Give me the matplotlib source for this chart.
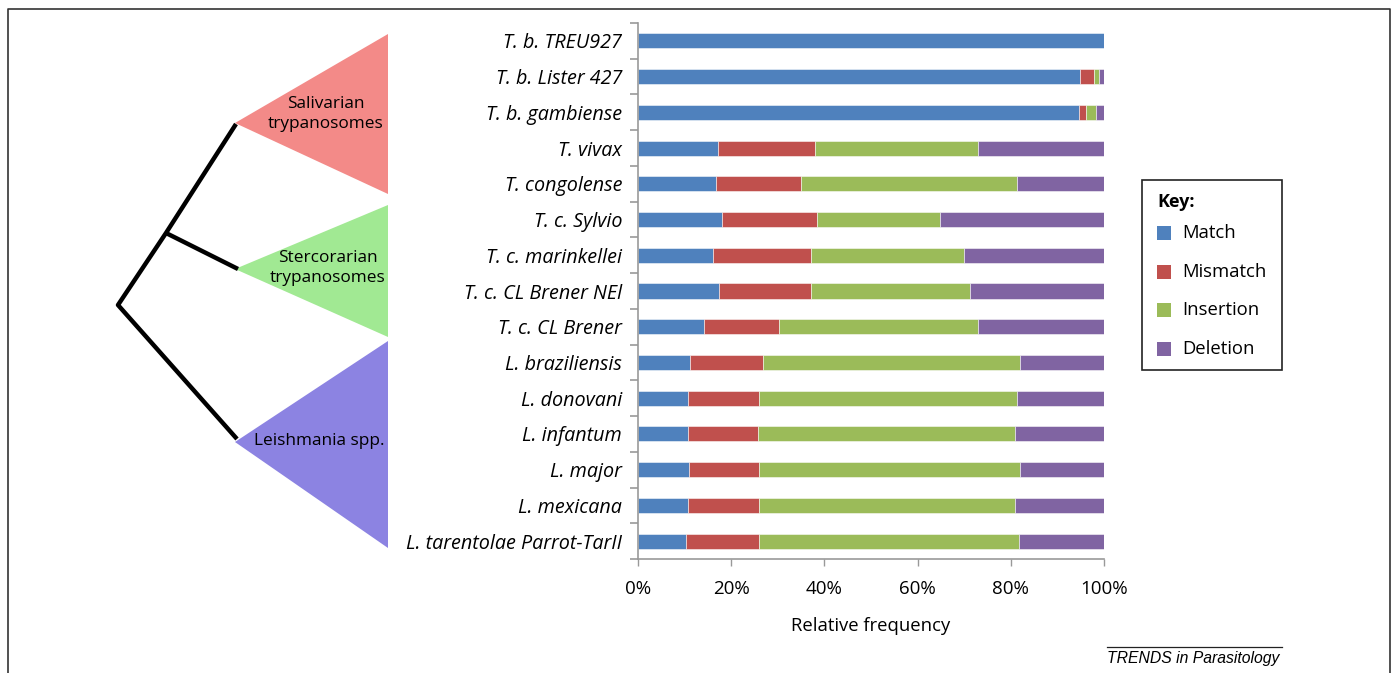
import matplotlib
matplotlib.use("Agg")
import matplotlib.pyplot as plt
from matplotlib.patches import Polygon, Rectangle
from matplotlib.lines import Line2D
import numpy as np

plt.rcParams['font.family'] = ['Open Sans', 'DejaVu Sans']

species = [
    "T. b. TREU927", "T. b. Lister 427", "T. b. gambiense", "T. vivax",
    "T. congolense", "T. c. Sylvio", "T. c. marinkellei", "T. c. CL Brener NEl",
    "T. c. CL Brener", "L. braziliensis", "L. donovani", "L. infantum",
    "L. major", "L. mexicana", "L. tarentolae Parrot-TarII",
]
# percentages per category (stacked left to right)
match = [100.0, 94.8, 94.6, 17.1, 16.8, 18.1, 16.2, 17.4, 14.2, 11.2, 10.7, 10.7, 10.9, 10.8, 10.4]
mismatch = [0.0, 3.1, 1.5, 20.9, 18.2, 20.3, 21.0, 19.7, 16.1, 15.6, 15.2, 15.1, 15.1, 15.2, 15.6]
insertion = [0.0, 1.0, 2.1, 34.9, 46.3, 26.4, 32.7, 34.1, 42.6, 55.1, 55.4, 55.1, 55.9, 54.8, 55.7]
deletion = [0.0, 1.1, 1.8, 27.1, 18.7, 35.2, 30.1, 28.8, 27.1, 18.1, 18.7, 19.1, 18.1, 19.2, 18.3]

series_names = ["Match", "Mismatch", "Insertion", "Deletion"]
series_colors = ["#4F81BD", "#C0504D", "#9BBB59", "#8064A2"]
xticks = [0, 20, 40, 60, 80, 100]
xtick_labels = ["0%", "20%", "40%", "60%", "80%", "100%"]

clades = ["Salivarian\ntrypanosomes", "Stercorarian\ntrypanosomes", "Leishmania spp."]
clade_colors = ["#F38A88", "#A1E993", "#8C83E2"]

W, H = 1393, 673
fig = plt.figure(figsize=(W / 100, H / 100), dpi=100)

# --- stacked bar chart ---
ax = fig.add_axes([638 / W, 1 - 559 / H, (1104 - 638) / W, (559 - 23) / H])
y = np.arange(len(species))
left = np.zeros(len(species))
for vals, col in zip([match, mismatch, insertion, deletion], series_colors):
    vals = np.array(vals)
    ax.barh(y, vals, left=left, height=0.42, color=col,
            edgecolor=(1, 1, 1, 0.6), linewidth=0.6)
    left += vals

ax.set_xlim(0, 100)
ax.set_ylim(len(species) - 0.5, -0.5)
ax.set_yticks(y)
ax.set_yticklabels(species, fontstyle='italic', fontsize=14.2)
ax.set_yticks(np.arange(len(species) + 1) - 0.5, minor=True)
ax.tick_params(axis='y', which='major', length=0, pad=11.5)
ax.tick_params(axis='y', which='minor', length=6, color='#999999', width=1.2)
ax.set_xticks(xticks)
ax.set_xticklabels(xtick_labels, fontsize=13.5)
ax.tick_params(axis='x', length=5, color='#999999', width=1, pad=10)
ax.set_xlabel("Relative frequency", fontsize=13.3, labelpad=14)
for s in ['top', 'right']:
    ax.spines[s].set_visible(False)
for s in ['left', 'bottom']:
    ax.spines[s].set_color('#999999')
    ax.spines[s].set_linewidth(1.2)

# --- overlay in pixel coordinates: frame, tree, clades, key ---
ov = fig.add_axes([0, 0, 1, 1], zorder=-1)
ov.set_xlim(0, W)
ov.set_ylim(H, 0)
ov.axis('off')

# outer frame
ov.add_line(Line2D([8, 8, 1390, 1390], [H, 9, 9, H], color='#333333', lw=1.2))

# clade triangles (apex, top-right, bottom-right)
tris = [
    [(235, 123), (388, 34), (388, 194)],
    [(235, 269), (388, 205), (388, 337)],
    [(235, 442), (388, 341), (388, 548)],
]
for pts, col in zip(tris, clade_colors):
    ov.add_patch(Polygon(pts, closed=True, color=col, lw=0))
label_pos = [(326, 114), (328, 268), (319, 441)]
for (tx, ty), name in zip(label_pos, clades):
    ov.text(tx, ty, name, ha='center', va='center', fontsize=12.4,
            linespacing=1.4, family=['Open Sans', 'DejaVu Sans'])

# tree branches
tree_kw = dict(color='black', lw=3.2, solid_capstyle='butt')
ov.add_line(Line2D([236, 166, 118, 237], [124, 233, 305, 439], **tree_kw))
ov.add_line(Line2D([166, 238], [233, 269], **tree_kw))

# key box
ov.add_patch(Rectangle((1142, 180), 140, 190, fill=False, ec='#222222', lw=1.2))
ov.text(1157, 202, "Key:", fontsize=13, fontweight='bold', va='center')
for i, (name, col) in enumerate(zip(series_names, series_colors)):
    yy = 233 + i * 38.7
    ov.add_patch(Rectangle((1157, yy - 7), 14, 14, color=col, lw=0))
    ov.text(1182, yy, name, fontsize=13.3, va='center')

# journal credit
ov.add_line(Line2D([1107, 1282], [647, 647], color='#222222', lw=0.9))
ov.text(1107, 658, "TRENDS in Parasitology", fontsize=11.3, fontstyle='italic',
        family=['Liberation Sans', 'DejaVu Sans'], va='center', ha='left')

fig.savefig("out.png", dpi=100)
